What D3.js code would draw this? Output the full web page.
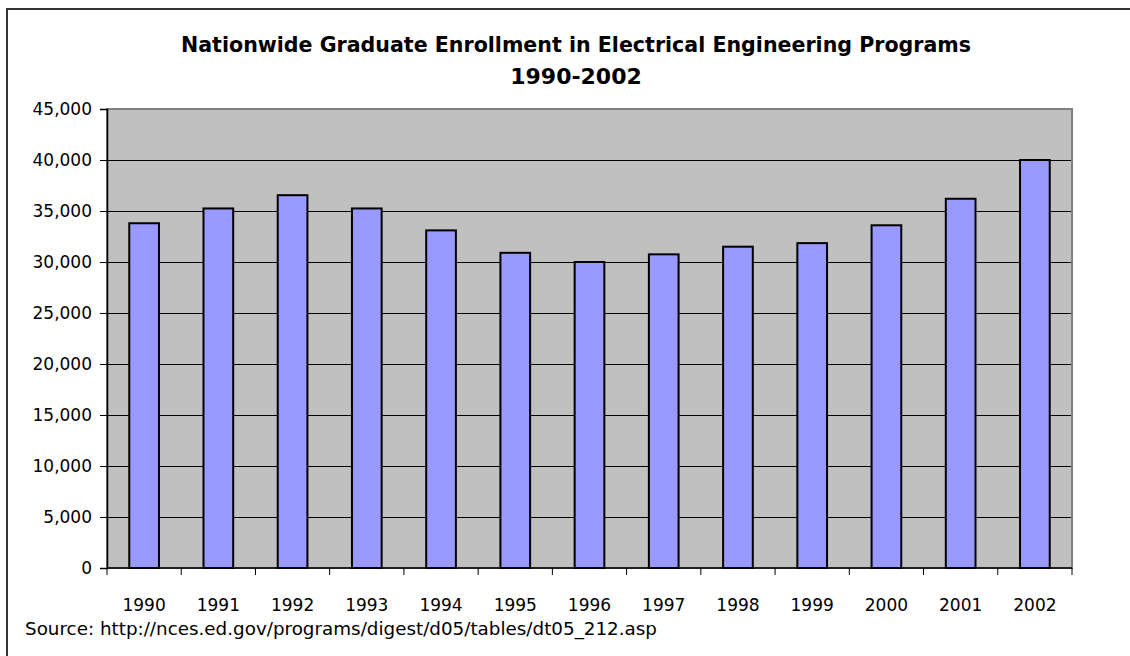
<!DOCTYPE html>
<html>
<head>
<meta charset="utf-8">
<script src="https://cdn.jsdelivr.net/npm/d3@7/dist/d3.min.js"></script>
<style>
  html, body { margin: 0; padding: 0; background: #fff; }
  svg { display: block; }
  text { font-family: "DejaVu Sans", Verdana, sans-serif; fill: #000; }
</style>
</head>
<body>
<svg id="chart" width="1130" height="656"></svg>
<script>
// Graduate enrollment in electrical engineering, by year
const years = ["1990", "1991", "1992", "1993", "1994", "1995", "1996",
               "1997", "1998", "1999", "2000", "2001", "2002"];
const enrollment = [33800, 35250, 36550, 35250, 33100, 30900, 30000,
                    30750, 31500, 31850, 33600, 36200, 40000];
const yTicks = [0, 5000, 10000, 15000, 20000, 25000, 30000, 35000, 40000, 45000];
const titleLines = ["Nationwide Graduate Enrollment in Electrical Engineering Programs", "1990-2002"];
const sourceNote = "Source: http://nces.ed.gov/programs/digest/d05/tables/dt05_212.asp";

const svg = d3.select("#chart");
const plot = { left: 107, right: 1072, top: 109, bottom: 568 };

// Outer chart frame
svg.append("rect")
  .attr("x", 7).attr("y", 9)
  .attr("width", 1140).attr("height", 660)
  .attr("fill", "#fff").attr("stroke", "#333").attr("stroke-width", 2);

const x = d3.scaleBand().domain(years).range([plot.left, plot.right]).paddingInner(0.6).paddingOuter(0.3);
const xCat = d3.scaleBand().domain(years).range([plot.left, plot.right]);
const y = d3.scaleLinear().domain([0, 45000]).range([plot.bottom, plot.top]);

// Plot background
svg.append("rect")
  .attr("x", plot.left).attr("y", plot.top)
  .attr("width", plot.right - plot.left).attr("height", plot.bottom - plot.top)
  .attr("fill", "#c0c0c0");

// Horizontal gridlines
svg.append("g").selectAll("line")
  .data(yTicks.filter(t => t > 0 && t < 45000))
  .join("line")
  .attr("x1", plot.left).attr("x2", plot.right)
  .attr("y1", d => Math.round(y(d)) + 0.5).attr("y2", d => Math.round(y(d)) + 0.5)
  .attr("stroke", "#000").attr("stroke-width", 1);

// Plot border
svg.append("rect")
  .attr("x", plot.left).attr("y", plot.top)
  .attr("width", plot.right - plot.left).attr("height", plot.bottom - plot.top)
  .attr("fill", "none").attr("stroke", "#808080").attr("stroke-width", 2);

// Bars
svg.append("g").selectAll("rect")
  .data(years.map((yr, i) => ({ yr, v: enrollment[i] })))
  .join("rect")
  .attr("x", d => xCat(d.yr) + xCat.bandwidth() * 0.3)
  .attr("width", xCat.bandwidth() * 0.4)
  .attr("y", d => y(d.v))
  .attr("height", d => y(0) - y(d.v))
  .attr("fill", "#9999ff")
  .attr("stroke", "#000").attr("stroke-width", 2);

// Y axis
const yAxis = svg.append("g")
  .attr("transform", `translate(${plot.left},0)`)
  .call(d3.axisLeft(y).tickValues(yTicks).tickFormat(d3.format(",")).tickSize(7).tickPadding(8));
yAxis.select(".domain").attr("stroke", "#000").attr("stroke-width", 1.5);
yAxis.selectAll(".tick line").attr("stroke", "#000");
yAxis.selectAll("text")
  .style("font-family", "'DejaVu Sans', Verdana, sans-serif")
  .style("font-size", "17px");

// X axis: ticks sit on category boundaries, labels at centres
const xAxis = svg.append("g").attr("transform", `translate(0,${plot.bottom})`);
xAxis.append("line")
  .attr("x1", plot.left).attr("x2", plot.right)
  .attr("y1", 0).attr("y2", 0)
  .attr("stroke", "#000").attr("stroke-width", 1.5);
xAxis.selectAll("line.tk")
  .data(years.map(d => xCat(d)).concat([plot.right]))
  .join("line").attr("class", "tk")
  .attr("x1", d => d).attr("x2", d => d)
  .attr("y1", 0).attr("y2", 7)
  .attr("stroke", "#000");
xAxis.selectAll("text")
  .data(years)
  .join("text")
  .attr("x", d => xCat(d) + xCat.bandwidth() / 2)
  .attr("y", 43)
  .attr("text-anchor", "middle")
  .style("font-size", "17px")
  .text(d => d);

// Title
svg.append("text")
  .attr("x", 576).attr("y", 52)
  .attr("text-anchor", "middle")
  .attr("textLength", 790).attr("lengthAdjust", "spacingAndGlyphs")
  .style("font-size", "22px").style("font-weight", "bold")
  .text(titleLines[0]);
svg.append("text")
  .attr("x", 576).attr("y", 84)
  .attr("text-anchor", "middle")
  .style("font-size", "22px").style("font-weight", "bold")
  .text(titleLines[1]);

// Source note
svg.append("text")
  .attr("x", 25).attr("y", 635)
  .attr("textLength", 632).attr("lengthAdjust", "spacingAndGlyphs")
  .style("font-size", "17px")
  .text(sourceNote);
</script>
</body>
</html>
